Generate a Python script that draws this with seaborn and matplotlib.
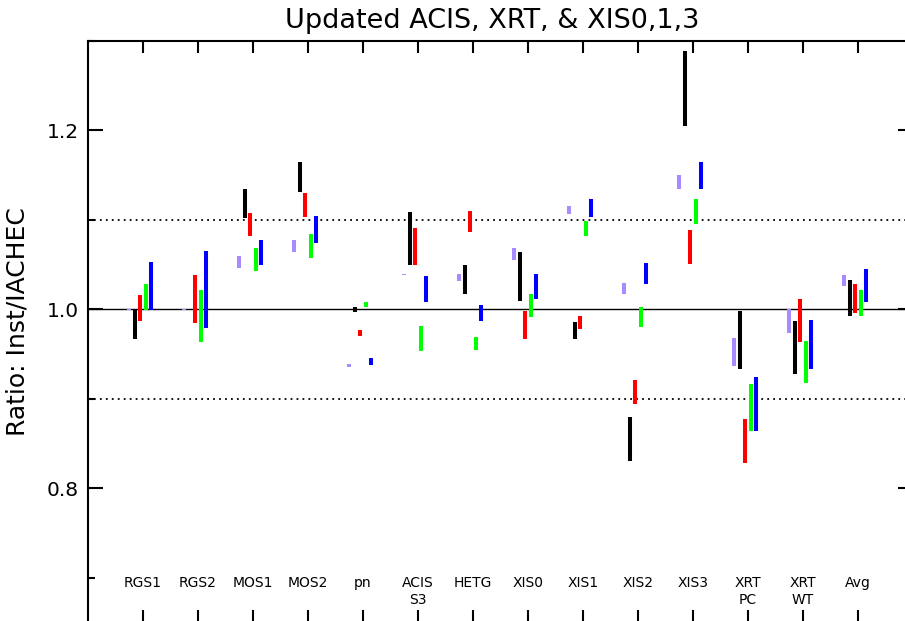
import numpy as np
import pandas as pd
import matplotlib
matplotlib.use("Agg")
import matplotlib.pyplot as plt
import seaborn as sns
from matplotlib.ticker import FixedLocator, NullLocator

# ---------------- data ----------------
categories = ["RGS1", "RGS2", "MOS1", "MOS2", "pn", "ACIS\nS3", "HETG", "XIS0",
              "XIS1", "XIS2", "XIS3", "XRT\nPC", "XRT\nWT", "Avg"]
series_names = ["S1", "S2", "S3", "S4", "S5"]

s1_lo = [0.9995, 0.9995, 1.046, 1.064, 0.9355, 1.0385, 1.032, 1.055, 1.107, 1.0175, 1.134, 0.937, 0.9735, 1.026]
s1_hi = [1.0005, 1.0005, 1.060, 1.078, 0.9385, 1.0395, 1.040, 1.069, 1.116, 1.029, 1.150, 0.968, 1.000, 1.038]

s2_lo = [0.9665, 0.7605, 1.102, 1.131, 0.997, 1.049, 1.0175, 1.009, 0.967, 0.830, 1.205, 0.933, 0.928, 0.992]
s2_hi = [1.000, 0.7615, 1.134, 1.165, 1.0026, 1.109, 1.049, 1.064, 0.986, 0.879, 1.289, 0.998, 0.987, 1.033]

s3_lo = [0.987, 0.985, 1.082, 1.103, 0.970, 1.050, 1.086, 0.967, 0.978, 0.894, 1.051, 0.828, 0.963, 0.996]
s3_hi = [1.016, 1.038, 1.108, 1.130, 0.9765, 1.091, 1.110, 0.998, 0.993, 0.921, 1.089, 0.877, 1.011, 1.028]

s4_lo = [0.999, 0.9635, 1.0425, 1.057, 1.0026, 0.953, 0.955, 0.991, 1.082, 0.980, 1.095, 0.864, 0.918, 0.9925]
s4_hi = [1.028, 1.021, 1.068, 1.084, 1.008, 0.981, 0.969, 1.017, 1.099, 1.002, 1.123, 0.916, 0.965, 1.022]

s5_lo = [0.999, 0.979, 1.049, 1.074, 0.938, 1.008, 0.987, 1.011, 1.103, 1.028, 1.134, 0.864, 0.933, 1.008]
s5_hi = [1.053, 1.065, 1.078, 1.104, 0.945, 1.037, 1.005, 1.039, 1.123, 1.052, 1.165, 0.924, 0.988, 1.045]

ref_lines = [0.9, 1.0, 1.1]
ytick_vals = [0.8, 1.0, 1.2]
ytick_labels = ["0.8", "1.0", "1.2"]
yminor_vals = [0.7, 0.9, 1.1, 1.3]
title = "Updated ACIS, XRT, & XIS0,1,3"
ylabel = "Ratio: Inst/IACHEC"

# ---------------- style ----------------
sns.set_theme(style="ticks")
plt.rcParams.update({
    "font.family": ["DejaVu Sans"],
    "text.color": "black",
    "axes.labelcolor": "black",
    "axes.edgecolor": "black",
    "xtick.color": "black",
    "ytick.color": "black",
    "axes.linewidth": 1.5,
})

palette = {"S1": "#a88cff", "S2": "#000000", "S3": "#ff0000", "S4": "#00ff00", "S5": "#0000ff"}

lows = [s1_lo, s2_lo, s3_lo, s4_lo, s5_lo]
highs = [s1_hi, s2_hi, s3_hi, s4_hi, s5_hi]

rows = []
for j, name in enumerate(series_names):
    dodge = (j - 2.5) * 0.1
    for i in range(len(categories)):
        xpos = i + 1 + dodge
        unit = f"{name}-{i}"
        rows.append({"x": xpos, "ratio": lows[j][i], "series": name, "unit": unit})
        rows.append({"x": xpos, "ratio": highs[j][i], "series": name, "unit": unit})
df = pd.DataFrame(rows)

# ---------------- figure ----------------
W, H = 905, 621
fig = plt.figure(figsize=(W / 100, H / 100), dpi=100)
ax = fig.add_axes([88 / W, -1.25 / H, 825 / W, 581.25 / H])

# reference lines
ax.axhline(ref_lines[1], color="black", lw=1.0, zorder=1)
for v in (ref_lines[0], ref_lines[2]):
    ax.axhline(v, color="black", lw=1.3, linestyle=(0, (1, 2.3)), zorder=1)

sns.lineplot(data=df, x="x", y="ratio", hue="series", units="unit",
             estimator=None, sort=False, palette=palette, legend=False,
             lw=2.9, solid_capstyle="butt", ax=ax, zorder=3)

ax.set_xlim(0, 15)
ax.set_ylim(0.65, 1.3)
ax.set_xlabel("")
ax.set_ylabel(ylabel, fontsize=18)
ax.yaxis.set_label_coords(-0.0715, 0.518)

ax.set_xticks(range(1, len(categories) + 1))
ax.xaxis.set_minor_locator(NullLocator())
ax.tick_params(axis="x", which="major", direction="in", top=True, bottom=True,
               length=8.6, width=1.5, labelbottom=False, labeltop=False)
ax.set_yticks(ytick_vals)
ax.set_yticklabels(ytick_labels)
ax.yaxis.set_minor_locator(FixedLocator(yminor_vals))
ax.tick_params(axis="y", which="major", direction="in", left=True, right=True,
               length=10.8, width=1.5, labelsize=14.5, pad=6.5)
ax.tick_params(axis="y", which="minor", direction="in", left=True, right=True,
               length=5, width=1.5)

for sp in ax.spines.values():
    sp.set_linewidth(1.5)
    sp.set_color("black")

# category labels inside the plot
for i, lab in enumerate(categories):
    ax.text(i + 1, 0.7015, lab, ha="center", va="top", fontsize=10,
            linespacing=1.25, zorder=4)

fig.text(492 / W, 1 - 28 / H, title, ha="center", va="baseline", fontsize=19.5)

fig.savefig("out.png", dpi=100)
